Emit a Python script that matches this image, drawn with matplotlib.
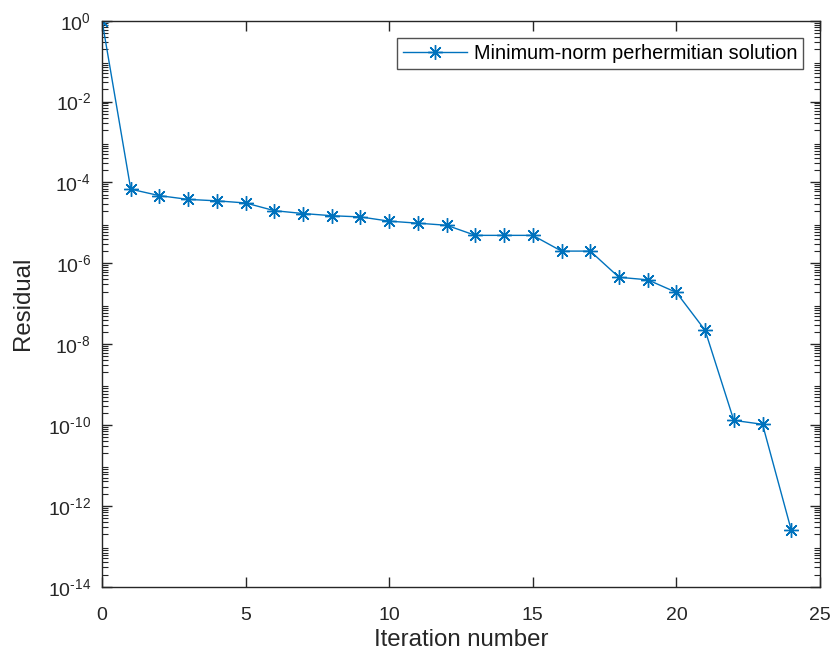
import matplotlib
matplotlib.use("Agg")
import matplotlib.pyplot as plt
from matplotlib.ticker import LogLocator, NullFormatter, FixedLocator

plt.rcParams['font.family'] = ['Liberation Sans', 'DejaVu Sans']

iterations = list(range(25))
residual = [1.0, 6.8e-5, 4.7e-5, 3.8e-5, 3.5e-5, 3.1e-5, 2.0e-5, 1.7e-5, 1.5e-5,
            1.4e-5, 1.1e-5, 9.8e-6, 8.7e-6, 4.9e-6, 4.9e-6, 4.9e-6, 2.0e-6, 2.0e-6,
            4.5e-7, 3.9e-7, 1.9e-7, 2.2e-8, 1.3e-10, 1.04e-10, 2.5e-13]
series_label = "Minimum-norm perhermitian solution"
x_label = "Iteration number"
y_label = "Residual"
x_ticks = [0, 5, 10, 15, 20, 25]
y_decades = [0, -2, -4, -6, -8, -10, -12, -14]

fig = plt.figure(figsize=(8.35, 6.55), dpi=100)
ax = fig.add_axes([0.1222, 0.1043, 0.982 - 0.1222, 0.9684 - 0.1043])

color = '#0072BD'
ax.plot(iterations, residual, color=color, lw=1.0, marker=(8, 2, 0), markersize=10.5,
        markeredgewidth=1.0, label=series_label)
ax.set_yscale('log')
ax.set_xlim(0, 25)
ax.set_ylim(1e-14, 1)

ax.xaxis.set_major_locator(FixedLocator(x_ticks))
ax.yaxis.set_major_locator(FixedLocator([10.0 ** d for d in y_decades]))
ax.yaxis.set_minor_locator(LogLocator(base=10, subs=range(2, 10), numticks=100))
ax.yaxis.set_minor_formatter(NullFormatter())
ax.set_yticklabels([r'$\mathregular{10^{%s}}$' % str(d).replace('-', '\u2010') for d in y_decades])

gray = '#262626'
for s in ax.spines.values():
    s.set_color(gray)
    s.set_linewidth(1.0)
ax.tick_params(which='both', direction='in', top=True, right=True, colors=gray,
               labelcolor='#262626')
ax.tick_params(which='major', length=7, width=1.0, labelsize=14, pad=8)
ax.tick_params(axis='x', which='major', pad=14.5)
ax.tick_params(which='minor', length=4, width=0.8)

ax.set_xlabel(x_label, fontsize=17.3, color='#262626', labelpad=4)
ax.set_ylabel(y_label, fontsize=17.3, color='#262626', labelpad=10)

leg = ax.legend(loc='upper right', fontsize=14.3, frameon=True, fancybox=False,
                edgecolor=gray, handlelength=3.2, borderaxespad=0.0,
                bbox_to_anchor=(803.3 / 835, 1 - 38.3 / 655), bbox_transform=fig.transFigure,
                borderpad=0.3, handletextpad=0.35)
leg.get_frame().set_linewidth(1.0)

fig.savefig('out.png', dpi=100)
